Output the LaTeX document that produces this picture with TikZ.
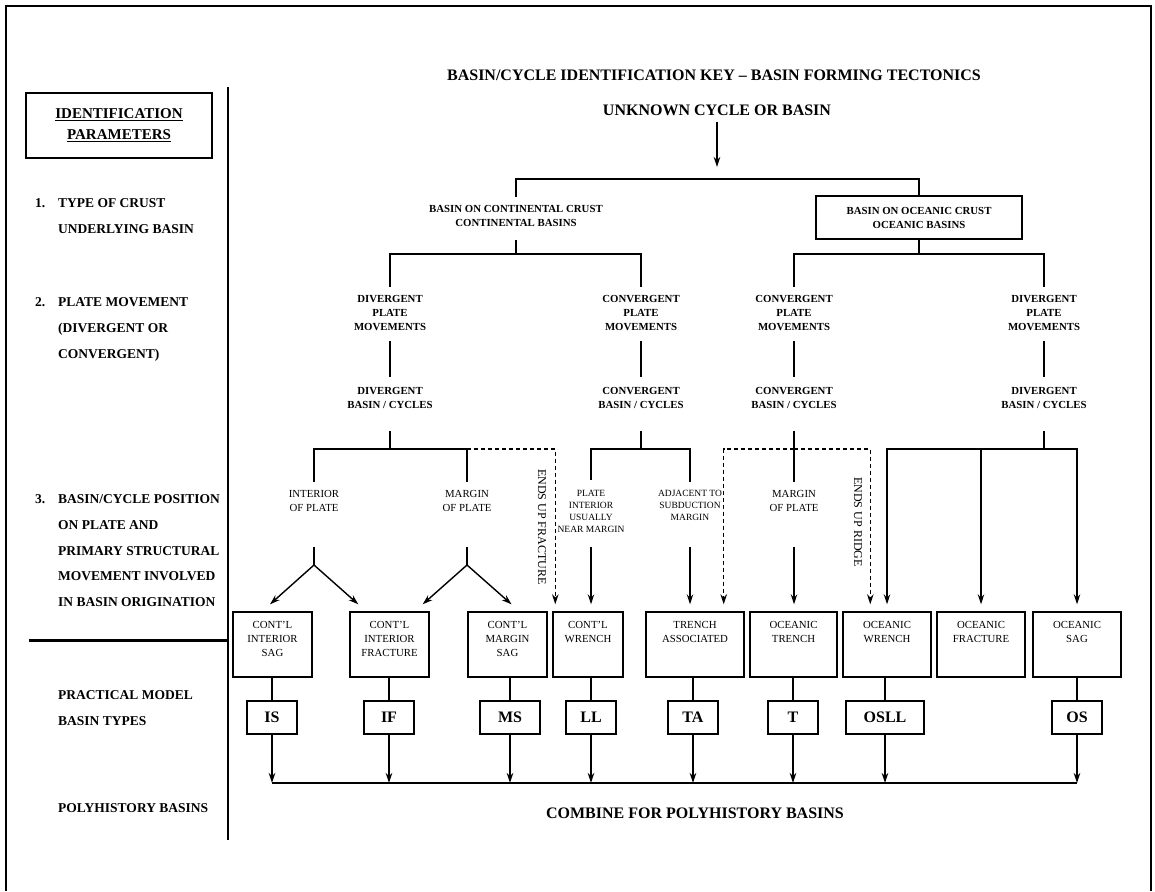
\documentclass[tikz,border=0pt]{standalone}
\usepackage{fontspec}
\setmainfont{Liberation Serif}
\usetikzlibrary{arrows.meta,calc}
\newcommand\fsz[2]{\fontsize{#1}{#2}\selectfont}
\newcommand\thickul[1]{\setbox0\hbox{#1}\leavevmode\rlap{\rule[-2.6pt]{\wd0}{1.3pt}}\box0}

\begin{document}
\begin{tikzpicture}[x=1pt,y=-1pt,
  link/.style={line width=1.4pt},
  arr/.style={link,-{Stealth[length=10pt,width=6.5pt]}},
  dsh/.style={dash pattern=on 4pt off 3pt},
  hdr/.style={font=\bfseries\fsz{10.8}{14},align=center,inner sep=0pt},
  txt/.style={font=\fsz{10.8}{14},align=center,inner sep=0pt},
  tiny/.style={font=\fsz{9.5}{12},align=center,inner sep=0pt},
  big/.style={font=\bfseries\fsz{16}{19},inner sep=0pt},
  side/.style={font=\bfseries\fsz{13.5}{25.7},align=left,inner sep=0pt,anchor=north west},
  kbox/.style={draw,line width=1.4pt,minimum height=65pt,inner sep=0pt},
  code/.style={draw,line width=1.4pt,minimum height=33pt,inner sep=0pt,font=\bfseries\fsz{16}{19}},
  vtxt/.style={font=\fsz{12}{14},inner sep=0pt,rotate=-90}
]
\useasboundingbox (0,0) rectangle (1155,891);

% outer frame (open at the bottom)
\draw[line width=2.5pt] (6,891) -- (6,6) -- (1151,6) -- (1151,891);

% ---------- left column: identification parameters ----------
\node[draw,line width=1.3pt,minimum width=186pt,minimum height=65pt,align=center,
      font=\bfseries\fsz{15}{21}] (idp) at (119,125.5)
      {\thickul{IDENTIFICATION}\\\thickul{PARAMETERS}};
\node[side] (n1) at (35,198.5) {1.};
\node[side] (s1) at (58,198.5) {TYPE OF CRUST\\UNDERLYING BASIN};
\node[side] (n2) at (35,297.5) {2.};
\node[side] (s2) at (58,297.5) {PLATE MOVEMENT\\(DIVERGENT OR\\CONVERGENT)};
\node[side] (n3) at (35,494.5) {3.};
\node[side] (s3) at (58,494.5) {BASIN/CYCLE POSITION\\ON PLATE AND\\PRIMARY STRUCTURAL\\MOVEMENT INVOLVED\\IN BASIN ORIGINATION};
\node[side] (s4) at (58,690.5) {PRACTICAL MODEL\\BASIN TYPES};
\node[side] (s5) at (58,803.5) {POLYHISTORY BASINS};

\coordinate (divtop) at (228,87);
\coordinate (divbot) at (228,840);
\draw[line width=2.2pt] (divtop) -- (divbot);
\coordinate (sepl) at (29,640);
\draw[line width=3pt] (sepl) -- (sepl -| divtop);

% ---------- titles ----------
\node[big] (title) at (714,75) {BASIN/CYCLE IDENTIFICATION KEY -- BASIN FORMING TECTONICS};
\node[big] (unknown) at (717,110) {UNKNOWN CYCLE OR BASIN};

% ---------- level 1: crust ----------
\node[hdr] (cont) at (516,216) {BASIN ON CONTINENTAL CRUST\\CONTINENTAL BASINS};
\node[hdr,draw,line width=1.4pt,minimum width=206pt,minimum height=43pt] (ocean) at (919,217.5)
      {BASIN ON OCEANIC CRUST\\OCEANIC BASINS};

% ---------- level 2: plate movement ----------
\node[hdr] (dpm)  at (390,313) {DIVERGENT\\PLATE\\MOVEMENTS};
\node[hdr] (cpm)  at (641,313) {CONVERGENT\\PLATE\\MOVEMENTS};
\node[hdr] (ocpm) at (794,313) {CONVERGENT\\PLATE\\MOVEMENTS};
\node[hdr] (odpm) at (1044,313) {DIVERGENT\\PLATE\\MOVEMENTS};

\node[hdr] (dbc)  at (390,398) {DIVERGENT\\BASIN / CYCLES};
\node[hdr] (cbc)  at (641,398) {CONVERGENT\\BASIN / CYCLES};
\node[hdr] (ocbc) at (794,398) {CONVERGENT\\BASIN / CYCLES};
\node[hdr] (odbc) at (1044,398) {DIVERGENT\\BASIN / CYCLES};

% ---------- level 3: position on plate ----------
\node[txt]  (intp)  at (314,501) {INTERIOR\\OF PLATE};
\node[txt]  (marp)  at (467,501) {MARGIN\\OF PLATE};
\node[tiny] (pint)  at (591,511) {PLATE\\INTERIOR\\USUALLY\\NEAR MARGIN};
\node[tiny] (adj)   at (690,505) {ADJACENT TO\\SUBDUCTION\\MARGIN};
\node[txt]  (omarp) at (794,501) {MARGIN\\OF PLATE};
\node[vtxt] (efr)   at (542,527) {ENDS UP FRACTURE};
\node[vtxt] (eur)   at (858,522) {ENDS UP RIDGE};

% ---------- basin boxes ----------
\foreach \n/\x/\w/\t in {
  b1/272.5/79/{CONT'L\\INTERIOR\\SAG},
  b2/389.5/79/{CONT'L\\INTERIOR\\FRACTURE},
  b3/507.5/79/{CONT'L\\MARGIN\\SAG},
  b4/588/70/{CONT'L\\WRENCH},
  b5/695/98/{TRENCH\\ASSOCIATED},
  b6/793.5/87/{OCEANIC\\TRENCH},
  b7/887/88/{OCEANIC\\WRENCH},
  b8/981/88/{OCEANIC\\FRACTURE},
  b9/1077/88/{OCEANIC\\SAG}}
  \node[kbox,minimum width=\w pt,
        label={[txt,anchor=north,yshift=-9.4pt]north:\t}] (\n) at (\x,644.5) {};

% ---------- model basin type codes ----------
\node[code,minimum width=50pt] (IS)   at (272,717.5) {IS};
\node[code,minimum width=50pt] (IF)   at (389,717.5) {IF};
\node[code,minimum width=60pt] (MS)   at (510,717.5) {MS};
\node[code,minimum width=50pt] (LL)   at (591,717.5) {LL};
\node[code,minimum width=50pt] (TA)   at (693,717.5) {TA};
\node[code,minimum width=50pt] (T)    at (793,717.5) {T};
\node[code,minimum width=78pt] (OSLL) at (885,717.5) {OSLL};
\node[code,minimum width=50pt] (OS)   at (1077,717.5) {OS};

\node[big] (combine) at (695,813) {COMBINE FOR POLYHISTORY BASINS};

% ---------- connectors ----------
\coordinate (a0)   at (717,167);
\coordinate (h1)   at (717,179);
\coordinate (h2c)  at (516,254);
\coordinate (h2o)  at (919,254);
\coordinate (h4d)  at (390,449);
\coordinate (h4c)  at (641,449);
\coordinate (h4o)  at (794,449);
\coordinate (h4od) at (1044,449);
\coordinate (apx1) at (314,565);
\coordinate (apx2) at (467,565);
\coordinate (base) at (0,783);

\draw[arr,shorten <=6pt] (unknown.south) -- (a0);
\draw[link,shorten <=8pt] (cont.north) -- (cont.north |- h1) -- (ocean.north |- h1) -- (ocean.north);

\draw[link,shorten <=13pt] (cont.south) -- (h2c);
\draw[link,shorten >=8pt] (h2c) -| (dpm.north);
\draw[link,shorten >=8pt] (h2c) -| (cpm.north);
\draw[link] (ocean.south) -- (h2o);
\draw[link,shorten >=8pt] (h2o) -| (ocpm.north);
\draw[link,shorten >=8pt] (h2o) -| (odpm.north);

\foreach \a/\b in {dpm/dbc,cpm/cbc,ocpm/ocbc,odpm/odbc}
  \draw[link,shorten <=10pt,shorten >=10pt] (\a.south) -- (\b.north);

% continental divergent branch
\draw[link,shorten <=22pt] (dbc.south) -- (h4d);
\draw[link,shorten >=8pt] (h4d) -| (intp.north);
\draw[link,shorten >=8pt] (h4d) -| (marp.north);
\draw[arr,dsh,shorten >=7pt] (marp.north |- h4d) -| ($(b4.north west)+(3,0)$);
\draw[link,shorten <=35pt] (intp.south) -- (apx1);
\draw[link,shorten <=35pt] (marp.south) -- (apx2);
\draw[arr] (apx1) -- ($(b1.north)+(-2.5,-7)$);
\draw[arr] (apx1) -- ($(b2.north west)+(9,-7)$);
\draw[arr] (apx2) -- ($(b2.north east)+(-7,-7)$);
\draw[arr] (apx2) -- ($(b3.north)+(4,-7)$);

% continental convergent branch
\draw[line width=2pt,shorten <=22pt] (cbc.south) -- (h4c);
\draw[link,shorten >=10pt] (h4c) -| (pint.north);
\draw[link,shorten >=8pt] (h4c) -| (adj.north);
\draw[arr,shorten <=15pt,shorten >=7pt] (pint.south) -- (pint.south |- b4.north);
\draw[arr,shorten <=27pt,shorten >=7pt] (adj.south) -- (adj.south |- b5.north);

% oceanic convergent branch
\draw[link,shorten <=22pt,shorten >=8pt] (ocbc.south) -- (omarp.north);
\draw[arr,shorten <=35pt,shorten >=7pt] (omarp.south) -- (omarp.south |- b6.north);
\draw[arr,dsh,shorten >=7pt] (h4o) -| ($(b5.north east)+(-21,0)$);
\draw[arr,dsh,shorten >=7pt] (h4o) -| ($(b7.north west)+(28,0)$);

% oceanic divergent branch
\draw[link,shorten <=22pt] (odbc.south) -- (h4od);
\draw[arr,shorten >=7pt] (h4od) -| (b7.north);
\draw[arr,shorten >=7pt] (h4od) -| (b8.north);
\draw[arr,shorten >=7pt] (h4od) -| (b9.north);

% boxes to codes, codes to the combining line
\foreach \b/\c in {b1/IS,b2/IF,b3/MS,b4/LL,b5/TA,b6/T,b7/OSLL,b9/OS}{
  \draw[link] (\c.north) -- (\c.north |- \b.south);
  \draw[arr] (\c.south) -- (\c.south |- base);
}
\draw[link] (IS.south |- base) -- (OS.south |- base);

\end{tikzpicture}
\end{document}
